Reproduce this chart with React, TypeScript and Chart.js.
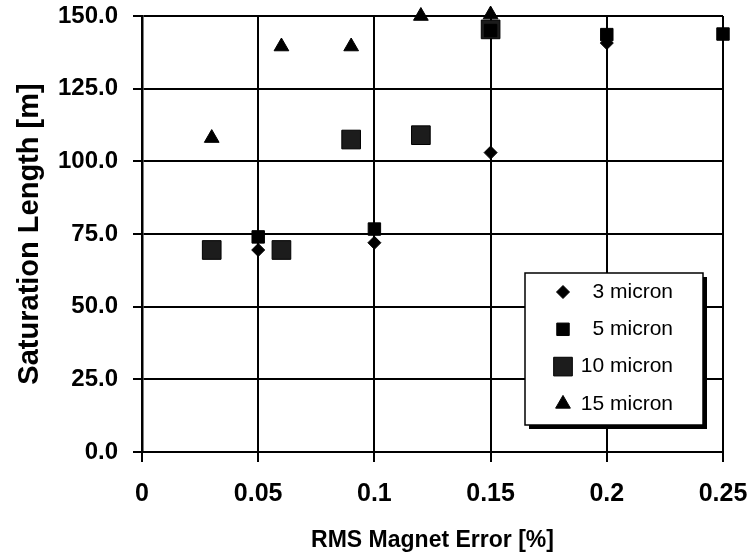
import React, { useEffect, useRef } from 'react';
import { Chart, registerables } from 'chart.js';
import { drawPoint } from 'chart.js/helpers';

Chart.register(...registerables);

// ---- data ----
const seriesNames = ['3 micron', '5 micron', '10 micron', '15 micron'];
const x3 = [0.05, 0.1, 0.15, 0.2];
const y3 = [69.5, 72, 103, 140.7];
const x5 = [0.05, 0.1, 0.15, 0.2, 0.25];
const y5 = [74, 76.7, 145, 143.6, 143.8];
const x10 = [0.03, 0.06, 0.09, 0.12, 0.15];
const y10 = [69.5, 69.5, 107.5, 109, 145.4];
const x15 = [0.03, 0.06, 0.09, 0.12, 0.15];
const y15 = [108, 139.5, 139.5, 150, 150.5];
const xTicks = [0, 0.05, 0.1, 0.15, 0.2, 0.25];
const yTicks = [0, 25, 50, 75, 100, 125, 150];
const xTitle = 'RMS Magnet Error [%]';
const yTitle = 'Saturation Length [m]';

const pts = (xs: number[], ys: number[]) => xs.map((x, i) => ({ x, y: ys[i] }));

const SANS = '"Liberation Sans", Arial, sans-serif';

const legendPlugin = {
  id: 'boxLegend',
  afterDraw(chart: any) {
    const ctx = chart.ctx;
    const bx = 525, by = 273, bw = 178, bh = 152;
    ctx.save();
    ctx.fillStyle = '#000';
    ctx.fillRect(bx + 4, by + 4, bw, bh);
    ctx.fillStyle = '#fff';
    ctx.fillRect(bx, by, bw, bh);
    ctx.strokeStyle = '#000';
    ctx.lineWidth = 1.5;
    ctx.strokeRect(bx, by, bw, bh);
    chart.data.datasets.forEach((ds: any, i: number) => {
      const y = by + 19 + i * 37.3;
      ctx.fillStyle = ds.backgroundColor;
      ctx.strokeStyle = ds.borderColor;
      ctx.lineWidth = ds.borderWidth;
      drawPoint(ctx, { pointStyle: ds.pointStyle, radius: ds.pointRadius, rotation: 0, borderWidth: ds.borderWidth }, bx + 38, y);
      ctx.fillStyle = '#000';
      ctx.font = '21px ' + SANS;
      ctx.textAlign = 'right';
      ctx.textBaseline = 'middle';
      ctx.fillText(ds.label, bx + 148, y);
    });
    ctx.restore();
  },
};

export default function App() {
  const ref = useRef<HTMLCanvasElement | null>(null);
  useEffect(() => {
    if (!ref.current) return;
    const mk = (label: string, data: any[], style: string, r: number, fill: string) => ({
      label,
      data,
      pointStyle: style,
      pointRadius: r,
      pointHoverRadius: r,
      backgroundColor: fill,
      borderColor: '#000',
      borderWidth: 1,
      showLine: false,
      clip: false,
    });
    const chart = new Chart(ref.current, {
      type: 'scatter',
      data: {
        datasets: [
          mk(seriesNames[0], pts(x3, y3), 'rectRot', 6.5, '#000'),
          mk(seriesNames[1], pts(x5, y5), 'rect', 8.8, '#000'),
          mk(seriesNames[2], pts(x10, y10), 'rect', 13.2, '#1c1c1c'),
          mk(seriesNames[3], pts(x15, y15), 'triangle', 8.5, '#000'),
        ] as any,
      },
      options: {
        animation: false,
        responsive: false,
        layout: { padding: { top: 16, right: 26, bottom: 0, left: 0 } },
        plugins: { legend: { display: false }, tooltip: { enabled: false } },
        scales: {
          x: {
            type: 'linear',
            min: 0,
            max: 0.25,
            afterBuildTicks: (s: any) => { s.ticks = xTicks.map((v) => ({ value: v })); },
            afterFit: (s: any) => { s.height = 106; s.paddingLeft = 0; s.paddingRight = 0; },
            grid: { color: '#000', lineWidth: 2, tickLength: 10, drawTicks: true },
            border: { display: true, color: '#000', width: 2 },
            ticks: {
              color: '#000',
              padding: 17,
              maxRotation: 0,
              font: { family: SANS, size: 25, weight: 'bold', lineHeight: 1.2 },
              callback: (v: any) => String(Number(Number(v).toFixed(2))),
            },
            title: {
              display: true,
              text: xTitle,
              color: '#000',
              padding: { top: 0, bottom: 4 },
              font: { family: SANS, size: 23, weight: 'bold', lineHeight: 1.2 },
            },
          },
          y: {
            type: 'linear',
            min: 0,
            max: 150,
            afterBuildTicks: (s: any) => { s.ticks = yTicks.map((v) => ({ value: v })); },
            afterFit: (s: any) => { s.width = 142; s.paddingTop = 0; s.paddingBottom = 0; },
            grid: { color: '#000', lineWidth: 2, tickLength: 9, drawTicks: true },
            border: { display: true, color: '#000', width: 2.5 },
            ticks: {
              color: '#000',
              padding: 15,
              font: { family: SANS, size: 24, weight: 'bold', lineHeight: 1 },
              callback: (v: any) => Number(v).toFixed(1),
            },
            title: {
              display: true,
              text: yTitle,
              color: '#000',
              padding: { top: 13, bottom: 0 },
              font: { family: SANS, size: 29, weight: 'bold', lineHeight: 1.2 },
            },
          },
        },
      },
      plugins: [legendPlugin],
    } as any);
    return () => chart.destroy();
  }, []);
  return (
    <div style={{ position: 'absolute', left: 0, top: 0, width: 749, height: 558, background: '#fff' }}>
      <canvas ref={ref} width={749} height={558} style={{ display: 'block' }} />
    </div>
  );
}
